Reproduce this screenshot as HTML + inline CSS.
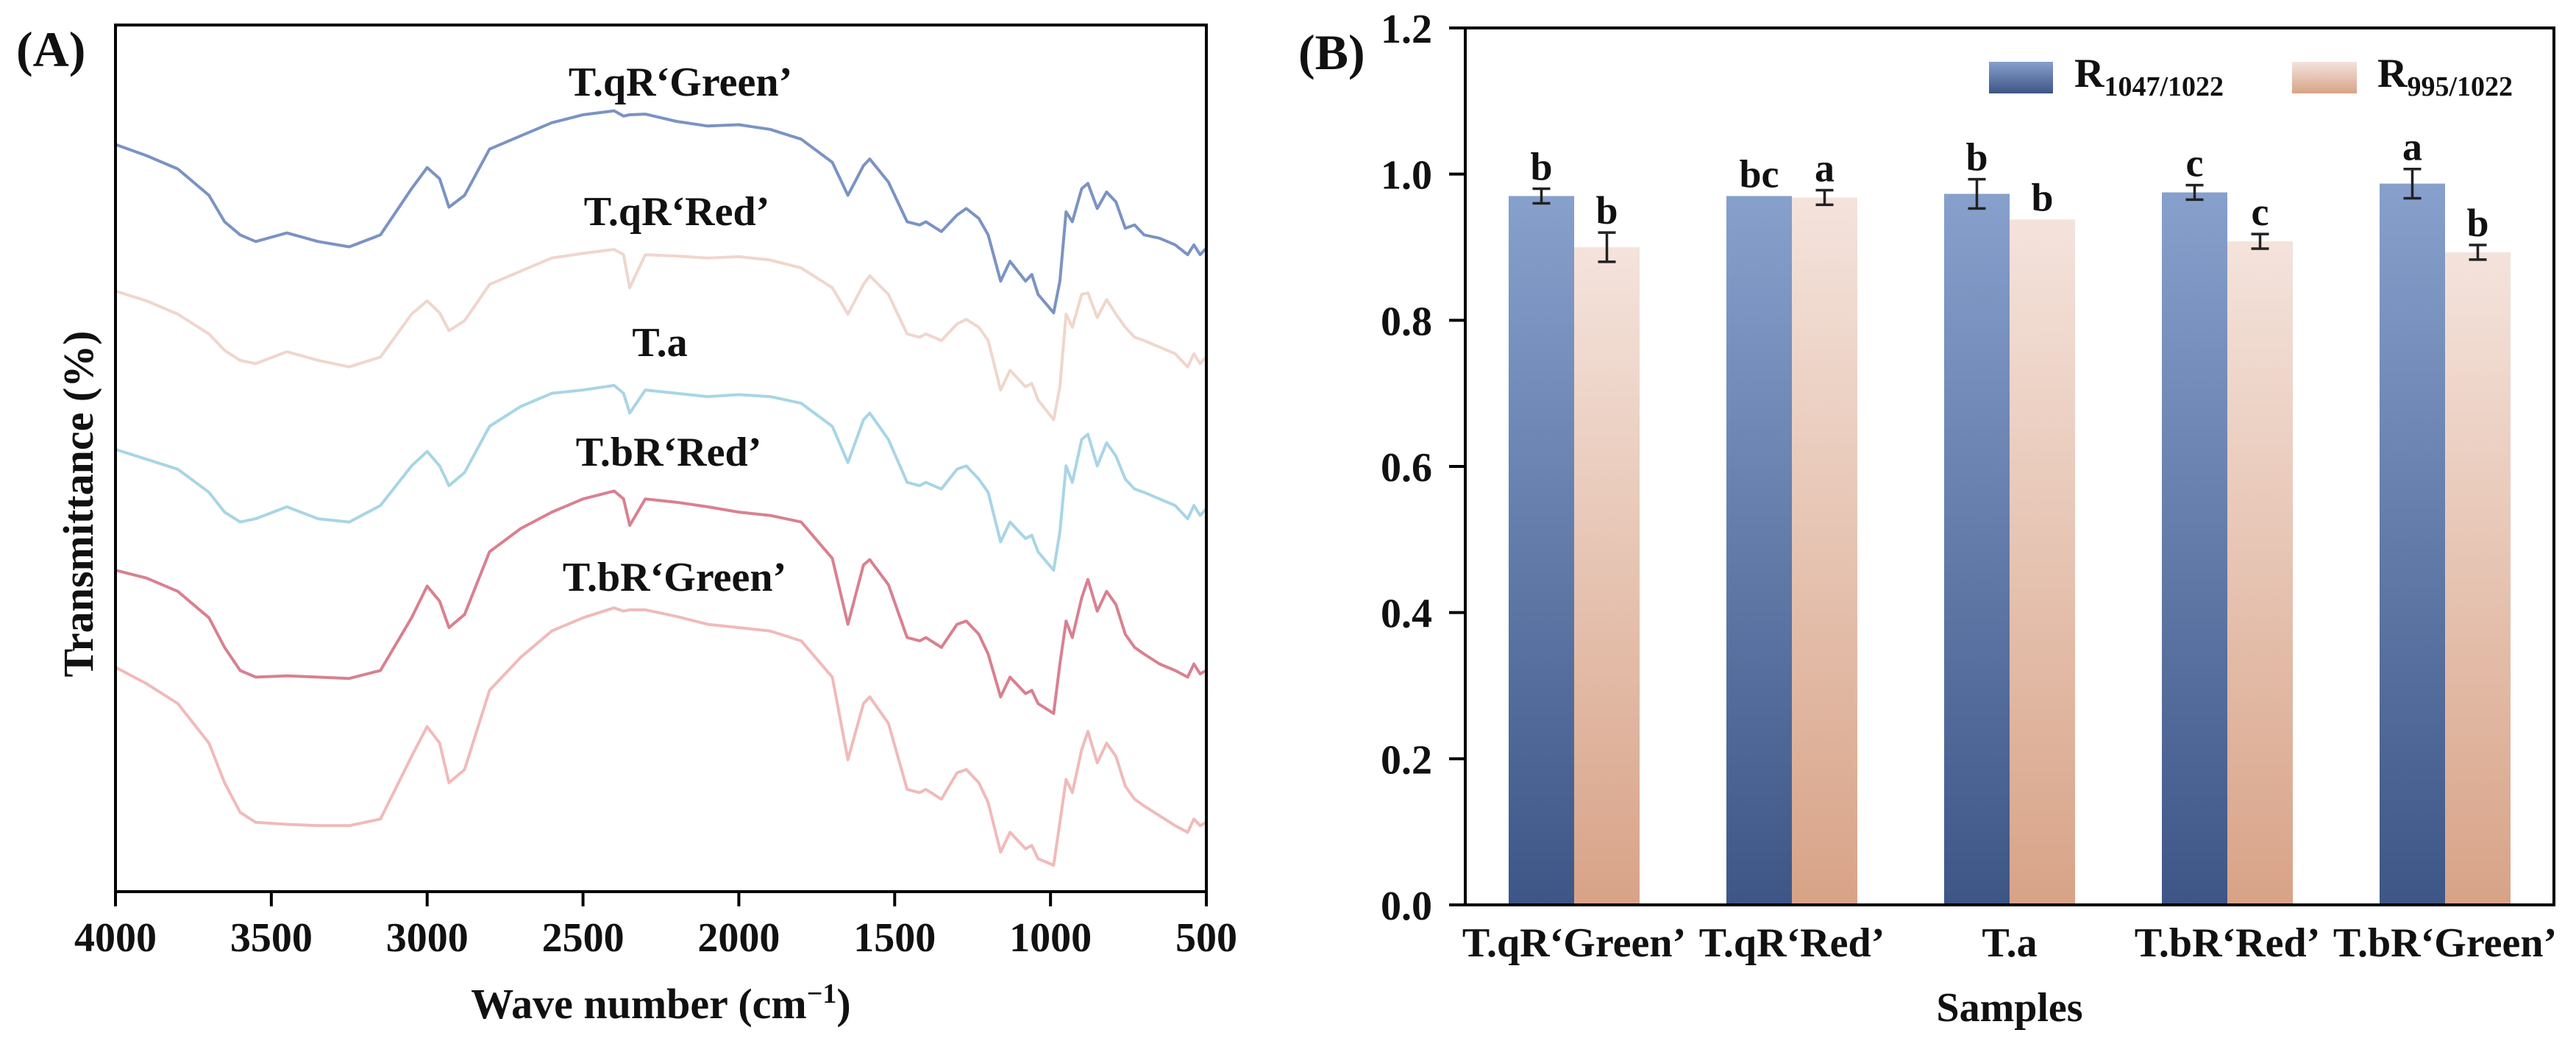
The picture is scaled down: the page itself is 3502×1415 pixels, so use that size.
<!DOCTYPE html>
<html><head><meta charset="utf-8">
<style>
html,body{margin:0;padding:0;background:#fff;}
svg, svg text{font-family:"Liberation Serif","Times New Roman",serif;font-weight:bold;}
</style></head>
<body>
<svg id="chart" width="3502" height="1410" viewBox="0 0 3502 1410" xmlns="http://www.w3.org/2000/svg" font-family="Liberation Serif, serif" font-weight="bold">
<defs>
<linearGradient id="gBlue" x1="0" y1="0" x2="0" y2="1"><stop offset="0" stop-color="#87a0cc"/><stop offset="1" stop-color="#3d5686"/></linearGradient>
<linearGradient id="gPink" x1="0" y1="0" x2="0" y2="1"><stop offset="0" stop-color="#f4e3dc"/><stop offset="1" stop-color="#d8a387"/></linearGradient>
</defs>
<g id="panelA"></g>
<g id="panelB"></g>
</svg>
<script>
// ---------- Panel A data ----------
const wavenumbers = [4000,3900,3800,3700,3650,3600,3550,3450,3350,3250,3150,3050,3000,2960,2930,2880,2800,2700,2600,2500,2400,2370,2350,2300,2200,2100,2000,1900,1800,1700,1650,1600,1580,1520,1460,1420,1400,1350,1300,1270,1230,1200,1160,1130,1080,1060,1040,990,970,950,930,900,880,850,820,790,760,730,700,650,600,560,540,520,500];
const spectrumQRGreen = [213,230,250,290,330,350,360,347,360,368,350,280,248,265,308,290,220,200,180,168,162,170,168,167,178,185,183,190,205,240,290,245,235,270,330,335,330,345,320,310,325,350,420,390,420,410,440,468,420,315,330,280,272,310,285,300,340,335,350,355,365,380,365,380,370];
const spectrumQRRed = [435,450,470,500,525,540,545,527,540,550,535,470,450,468,495,480,425,405,385,378,372,380,430,380,382,385,383,388,400,430,470,425,412,440,500,505,500,510,485,478,490,510,585,555,580,575,600,630,580,470,490,440,438,475,448,470,490,505,510,520,530,550,530,545,535];
const spectrumTa = [675,690,705,740,770,785,780,762,780,785,760,700,678,700,730,710,640,610,590,585,578,590,620,585,590,595,592,595,605,640,695,630,620,660,725,730,725,735,705,700,720,740,815,785,810,805,830,858,800,700,725,660,652,700,665,685,720,735,740,750,760,780,760,775,765];
const spectrumBRRed = [858,870,890,930,975,1010,1020,1018,1020,1022,1010,930,882,905,945,925,830,795,770,750,738,750,790,750,755,762,770,775,785,840,940,850,842,880,960,965,960,975,940,935,955,985,1050,1020,1045,1040,1060,1075,1000,935,960,900,872,920,890,910,955,975,985,1000,1010,1020,1000,1015,1010];
const spectrumBRGreen = [1005,1030,1060,1120,1180,1225,1240,1243,1245,1245,1235,1140,1095,1120,1180,1160,1040,990,950,930,915,920,918,918,928,940,945,950,965,1020,1145,1060,1050,1090,1190,1195,1190,1205,1165,1160,1180,1210,1285,1255,1280,1275,1295,1305,1240,1175,1195,1130,1102,1150,1120,1140,1185,1205,1215,1230,1245,1255,1235,1245,1240];
const seriesNamesA = ["T.qR‘Green’","T.qR‘Red’","T.a","T.bR‘Red’","T.bR‘Green’"];
const xTicksA = [4000,3500,3000,2500,2000,1500,1000,500];

// ---------- Panel B data ----------
const categories = ["T.qR‘Green’","T.qR‘Red’","T.a","T.bR‘Red’","T.bR‘Green’"];
const ratio1047 = [0.970,0.970,0.973,0.975,0.987];
const err1047 = [0.010,0.000,0.020,0.010,0.020];
const letters1047 = ["b","bc","b","c","a"];
const ratio995 = [0.900,0.968,0.938,0.908,0.893];
const err995 = [0.020,0.010,0.000,0.010,0.010];
const letters995 = ["b","a","b","c","b"];
const yTicksB = [0.0,0.2,0.4,0.6,0.8,1.0,1.2];
const yTickLabelsB = ["0.0","0.2","0.4","0.6","0.8","1.0","1.2"];

const NS="http://www.w3.org/2000/svg";
const FONT="Liberation Serif, Times New Roman, serif";
function mk(parent, tag, attrs, text){
  const e=document.createElementNS(NS,tag);
  for(const k in attrs) e.setAttribute(k,attrs[k]);
  if(tag==='text'){e.setAttribute('font-family',FONT);e.setAttribute('font-weight','bold');}
  if(text!==undefined) e.textContent=text;
  parent.appendChild(e); return e;
}

// ===== Panel A =====
const A=document.getElementById('panelA');
const aL=157,aR=1640,aT=34,aB=1212;
const xA=w=>aL+(4000-w)/(4000-500)*(aR-aL);
const yA=v=>aT+(v-32)/(1345-32)*(aB-aT);
const specs=[spectrumQRGreen,spectrumQRRed,spectrumTa,spectrumBRRed,spectrumBRGreen];
const colorsA=["#7a93c4","#f0d6cc","#a8d5e6","#d98090","#f1baba"];
const labelPosA=[[925,112],[920,288],[897,466],[909,615],[917,785]];
specs.forEach((s,i)=>{
  const d=s.map((v,j)=>(j?'L':'M')+xA(wavenumbers[j]).toFixed(1)+' '+yA(v).toFixed(1)).join(' ');
  const p=mk(A,'path',{d:d,fill:'none',stroke:colorsA[i],'stroke-width':4,'stroke-linejoin':'round'});
  
  
  const t=mk(A,'text',{x:labelPosA[i][0],y:labelPosA[i][1],'font-size':56,'text-anchor':'middle','dominant-baseline':'central',fill:'#111'},seriesNamesA[i]);
  
  
});
const frameA=mk(A,'rect',{x:aL,y:aT,width:aR-aL,height:aB-aT,fill:'none',stroke:'#000','stroke-width':4});


xTicksA.forEach(w=>{
  const tk=mk(A,'line',{x1:xA(w),x2:xA(w),y1:aB,y2:aB+20,stroke:'#000','stroke-width':4});
  
  
  const tl=mk(A,'text',{x:xA(w),y:1293,'font-size':56,'text-anchor':'middle',fill:'#111'},String(w));
  
  
});
const xt=mk(A,'text',{x:(aL+aR)/2,y:1384,'font-size':58,'text-anchor':'middle',fill:'#111'});


xt.innerHTML='Wave number (cm<tspan baseline-shift="super" font-size="38">−1</tspan>)';
const yt=mk(A,'text',{x:0,y:0,'font-size':58,'text-anchor':'middle',transform:'translate(126,685) rotate(-90)',fill:'#111'},'Transmittance (%)');


const la=mk(A,'text',{x:22,y:90,'font-size':68,fill:'#111'},'(A)');



// ===== Panel B =====
const B=document.getElementById('panelB');
const bL=1992,bR=3472,bT=38,bB=1230;
const yB=v=>bB-v/1.2*(bB-bT);
const band=(bR-bL)/categories.length;
const barW=89;
function errBar(cx,v,e){
  if(e<=0) return;
  const g=mk(B,'g',{stroke:'#222','stroke-width':3.5});
  
  
  mk(g,'line',{x1:cx,x2:cx,y1:yB(v+e),y2:yB(v-e)});
  mk(g,'line',{x1:cx-12,x2:cx+12,y1:yB(v+e),y2:yB(v+e)});
  mk(g,'line',{x1:cx-12,x2:cx+12,y1:yB(v-e),y2:yB(v-e)});
}
categories.forEach((c,i)=>{
  const cx=bL+band*(i+0.5);
  const r1=mk(B,'rect',{x:cx-barW,y:yB(ratio1047[i]),width:barW,height:bB-yB(ratio1047[i]),fill:'url(#gBlue)'});
  
  
  const r2=mk(B,'rect',{x:cx,y:yB(ratio995[i]),width:barW,height:bB-yB(ratio995[i]),fill:'url(#gPink)'});
  
  
  errBar(cx-barW/2,ratio1047[i],err1047[i]);
  errBar(cx+barW/2,ratio995[i],err995[i]);
  const l1=mk(B,'text',{x:cx-barW/2,y:yB(ratio1047[i]+err1047[i])-12,'font-size':54,'text-anchor':'middle',fill:'#111'},letters1047[i]);
  
  
  const l2=mk(B,'text',{x:cx+barW/2,y:yB(ratio995[i]+err995[i])-12,'font-size':54,'text-anchor':'middle',fill:'#111'},letters995[i]);
  
  
  const cl=mk(B,'text',{x:cx,y:1300,'font-size':56,'text-anchor':'middle',fill:'#111'},c);
  
  
});
const frameB=mk(B,'rect',{x:bL,y:bT,width:bR-bL,height:bB-bT,fill:'none',stroke:'#000','stroke-width':4});


yTicksB.forEach((v,i)=>{
  const tk=mk(B,'line',{x1:bL-22,x2:bL,y1:yB(v),y2:yB(v),stroke:'#000','stroke-width':4});
  
  
  const tl=mk(B,'text',{x:1947,y:yB(v)+20,'font-size':56,'text-anchor':'end',fill:'#111'},yTickLabelsB[i]);
  
  
});
const st=mk(B,'text',{x:(bL+bR)/2,y:1388,'font-size':56,'text-anchor':'middle',fill:'#111'},'Samples');


const lb=mk(B,'text',{x:1765,y:94,'font-size':68,fill:'#111'},'(B)');


// legend
const lg=mk(B,'g',{});


const sw1=mk(lg,'rect',{x:2704,y:84,width:87,height:43,fill:'url(#gBlue)'});


const lt1=mk(lg,'text',{x:2820,y:118,'font-size':56,fill:'#111'});


lt1.innerHTML='R<tspan font-size="38" dy="12">1047/1022</tspan>';
const sw2=mk(lg,'rect',{x:3116,y:84,width:88,height:43,fill:'url(#gPink)'});


const lt2=mk(lg,'text',{x:3232,y:118,'font-size':56,fill:'#111'});


lt2.innerHTML='R<tspan font-size="38" dy="12">995/1022</tspan>';
</script>
</body></html>
